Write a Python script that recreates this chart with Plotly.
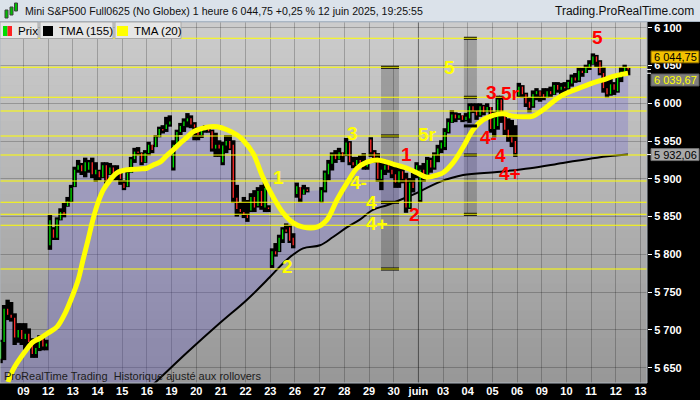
import plotly.graph_objects as go

# ---------------- data ----------------
days = ["08", "09", "12", "13", "14", "15", "16", "19", "20", "21", "22", "23", "26",
        "27", "28", "29", "30", "juin", "03", "04", "05", "06", "09", "10", "11", "12", "13"]
bars_per_day = [7, 7, 7, 7, 7, 7, 7, 7, 7, 7, 7, 7, 4,
                7, 7, 7, 7, 7, 7, 7, 7, 7, 7, 7, 7, 4, 0]

opens = [
    5662, 5684, 5728, 5720, 5716, 5690, 5700,
    5688, 5695, 5684, 5668, 5676, 5688, 5678,
    5812, 5833, 5822, 5846, 5856, 5864, 5870,
    5890, 5912, 5918, 5910, 5912, 5922, 5906,
    5910, 5902, 5918, 5906, 5915, 5906, 5910,
    5894, 5890, 5908, 5926, 5936, 5934, 5922,
    5934, 5945, 5942, 5955, 5966, 5966, 5972,
    5915, 5945, 5962, 5970, 5976, 5980, 5972,
    5962, 5958, 5964, 5968, 5963, 5940, 5945,
    5922, 5944, 5950, 5945, 5875, 5860, 5856,
    5852, 5858, 5876, 5864, 5884, 5862, 5862,
    5786, 5804, 5804, 5820, 5833, 5836, 5822,
    5880, 5889, 5880, 5886,
    5870, 5885, 5906, 5920, 5932, 5926, 5935,
    5932, 5948, 5922, 5918, 5925, 5920, 5916,
    5952, 5935, 5928, 5900, 5912, 5918, 5912,
    5906, 5895, 5910, 5900, 5862, 5895, 5905,
    5872, 5912, 5905, 5925, 5915, 5932, 5940,
    5942, 5962, 5975, 5985, 5980, 5984, 5978,
    5980, 5996, 5990, 5984, 5996, 5988, 5995,
    5966, 5970, 6005, 5984, 5965, 5955, 5950,
    6010, 6022, 6012, 6002, 5996, 6012, 6016,
    6012, 6008, 6016, 6012, 6024, 6018, 6022,
    6020, 6026, 6034, 6030, 6043, 6040, 6048,
    6052, 6062, 6055, 6040, 6020, 6012, 6025,
    6016, 6034, 6042, 6047,
]
highs = [
    5687, 5733, 5740, 5737, 5722, 5709, 5709,
    5709, 5702, 5689, 5684, 5693, 5689, 5687,
    5852, 5836, 5849, 5861, 5868, 5876, 5892,
    5916, 5925, 5921, 5928, 5925, 5928, 5922,
    5912, 5922, 5922, 5921, 5918, 5918, 5912,
    5898, 5912, 5929, 5941, 5942, 5935, 5938,
    5949, 5945, 5958, 5969, 5971, 5982, 5984,
    5951, 5965, 5974, 5980, 5987, 5984, 5975,
    5968, 5967, 5971, 5968, 5965, 5961, 5951,
    5949, 5958, 5958, 5951, 5892, 5869, 5876,
    5872, 5881, 5885, 5889, 5892, 5896, 5865,
    5808, 5815, 5826, 5836, 5841, 5839, 5828,
    5895, 5889, 5892, 5889,
    5889, 5911, 5925, 5935, 5938, 5941, 5935,
    5954, 5950, 5929, 5929, 5931, 5934, 5925,
    5955, 5938, 5934, 5921, 5925, 5922, 5918,
    5918, 5916, 5916, 5908, 5901, 5908, 5922,
    5918, 5921, 5929, 5928, 5935, 5945, 5951,
    5967, 5980, 5991, 5988, 5987, 5984, 5987,
    6000, 6000, 6000, 6000, 5998, 6000, 5995,
    5989, 6010, 6010, 5984, 5980, 5978, 5971,
    6027, 6024, 6014, 6008, 6017, 6020, 6017,
    6020, 6020, 6022, 6028, 6028, 6027, 6028,
    6031, 6038, 6040, 6047, 6047, 6051, 6057,
    6066, 6064, 6057, 6048, 6035, 6033, 6028,
    6037, 6048, 6051, 6047,
]
lows = [
    5656, 5660, 5713, 5711, 5680, 5683, 5680,
    5674, 5677, 5663, 5663, 5672, 5673, 5673,
    5806, 5819, 5819, 5845, 5849, 5863, 5869,
    5889, 5908, 5905, 5902, 5908, 5901, 5896,
    5898, 5901, 5892, 5905, 5898, 5898, 5892,
    5885, 5889, 5908, 5921, 5931, 5918, 5921,
    5931, 5934, 5942, 5955, 5960, 5962, 5969,
    5911, 5944, 5958, 5962, 5968, 5967, 5951,
    5951, 5954, 5961, 5961, 5936, 5929, 5929,
    5918, 5934, 5938, 5868, 5850, 5852, 5848,
    5843, 5856, 5856, 5862, 5859, 5856, 5856,
    5782, 5797, 5803, 5815, 5828, 5815, 5808,
    5875, 5869, 5879, 5882,
    5868, 5882, 5898, 5911, 5921, 5925, 5922,
    5930, 5918, 5914, 5916, 5918, 5912, 5912,
    5929, 5921, 5896, 5885, 5905, 5908, 5901,
    5888, 5888, 5894, 5855, 5860, 5882, 5901,
    5869, 5896, 5902, 5908, 5912, 5922, 5934,
    5938, 5960, 5974, 5975, 5978, 5975, 5976,
    5974, 5987, 5978, 5982, 5984, 5988, 5961,
    5955, 5965, 5974, 5958, 5949, 5942, 5929,
    6008, 6007, 5995, 5988, 5994, 6004, 6002,
    6004, 6007, 6008, 6011, 6014, 6011, 6015,
    6018, 6022, 6027, 6028, 6035, 6040, 6044,
    6051, 6048, 6037, 6014, 6007, 6010, 6011,
    6014, 6028, 6041, 6037,
]
closes = [
    5684, 5728, 5720, 5716, 5690, 5700, 5688,
    5695, 5684, 5668, 5676, 5688, 5678, 5682,
    5845, 5822, 5846, 5856, 5852, 5870, 5888,
    5912, 5918, 5910, 5922, 5922, 5906, 5912,
    5902, 5918, 5898, 5915, 5906, 5910, 5900,
    5888, 5908, 5926, 5936, 5934, 5922, 5934,
    5945, 5938, 5955, 5966, 5964, 5972, 5976,
    5945, 5962, 5970, 5976, 5980, 5972, 5968,
    5958, 5964, 5968, 5963, 5940, 5945, 5940,
    5944, 5950, 5940, 5875, 5860, 5856, 5852,
    5848, 5876, 5862, 5884, 5864, 5888, 5860,
    5804, 5800, 5822, 5833, 5830, 5818, 5812,
    5890, 5874, 5886, 5884,
    5885, 5908, 5920, 5932, 5926, 5935, 5930,
    5948, 5922, 5918, 5925, 5920, 5916, 5920,
    5935, 5928, 5900, 5912, 5918, 5912, 5906,
    5895, 5910, 5900, 5862, 5895, 5888, 5918,
    5912, 5905, 5925, 5915, 5932, 5940, 5948,
    5962, 5975, 5985, 5980, 5984, 5978, 5982,
    5996, 5990, 5984, 5996, 5988, 5995, 5966,
    5980, 6005, 5985, 5965, 5955, 5948, 5934,
    6022, 6012, 6000, 5994, 6012, 6016, 6010,
    6008, 6016, 6012, 6024, 6018, 6022, 6020,
    6028, 6034, 6030, 6043, 6040, 6048, 6052,
    6062, 6055, 6040, 6020, 6012, 6025, 6018,
    6034, 6042, 6048, 6044.75,
]

# triangular moving averages, sampled along the drawn curves (x in hourly-bar units)
tma20_x = [2.6, 4.0, 7.4, 9.7, 11.7, 14.0, 16.5, 18.8, 20.8, 22.5, 23.9, 25.3, 26.7,
           28.1, 29.6, 31.5, 33.5, 36.4, 40.0, 42.0, 43.7, 45.7, 47.7, 49.4, 51.4,
           53.4, 55.1, 57.9, 59.9, 61.9, 64.7, 67.6, 69.3, 72.1, 74.9, 77.8, 80.6,
           83.4, 86.3, 90.2, 93.1, 95.9, 98.8, 101.6, 104.4, 107.3, 110.1, 112.9,
           115.8, 118.6, 121.4, 124.3, 126.0, 128.8, 131.7, 134.5, 137.3, 140.2,
           143.0, 145.8, 148.7, 151.5, 154.3, 157.2, 160.0, 162.9, 165.7, 168.5,
           171.4, 174.2, 177.0, 178.45]
tma20_y = [5631, 5647, 5671, 5684, 5689, 5696, 5704, 5722, 5744, 5766, 5793, 5819, 5846,
           5868, 5885, 5898, 5908, 5912, 5913, 5914, 5918, 5922, 5931, 5938, 5947,
           5955, 5962, 5967, 5969, 5969, 5965, 5958, 5951, 5934, 5902, 5876, 5855,
           5842, 5836, 5836, 5846, 5872, 5895, 5914, 5922, 5925, 5922, 5918,
           5914, 5908, 5902, 5905, 5908, 5921, 5942, 5965, 5978, 5984,
           5986, 5983, 5982, 5983, 5991, 6002, 6011, 6017, 6022, 6027,
           6031, 6035.5, 6038.5, 6039.67]
tma155_x = [0.34, 20.2, 40.0, 45.2, 53.4, 62.7, 70.4, 76.9, 81.7, 86.3, 91.1, 94.8, 98.8,
            102.4, 106.1, 110.1, 113.8, 117.5, 121.4, 125.1, 131.7, 141.3, 150.7,
            160.0, 169.7, 178.45]
tma155_y = [5440, 5530, 5612, 5634, 5670, 5709, 5740, 5770, 5793, 5808, 5812, 5823, 5836,
            5846, 5859, 5865, 5872, 5879, 5888, 5896, 5905, 5909, 5914,
            5921, 5928, 5932.06]

# horizontal levels drawn on the chart
levels = [6086.0, 6047.6, 6007.9, 5989.8, 5956.7, 5931.5, 5897.1, 5868.9, 5853.0, 5838.5, 5780.6]

# ---------------- geometry helpers ----------------
W, H = 700, 400
PL, PR, PT, PB = 0, 647, 22, 383
Y_RANGE = [5629.75, 6107.54]
X_RANGE = [0.34, 183.84]
FONT = "Liberation Sans, Arial, sans-serif"


def pxp(x):
    return (x - PL) / (PR - PL)


def pyp(y):
    return (PB - y) / (PB - PT)


def fr(v):
    return f"{v:,.2f}".replace(",", " ").replace(".", ",")


xs = []
for d, n in enumerate(bars_per_day):
    xs += [d * 7 + j + 0.5 for j in range(n)]

fig = go.Figure()

# purple cloud between price and TMA(155)
fig.add_trace(go.Scatter(x=tma155_x, y=tma155_y, mode="lines",
                         line=dict(width=0, shape="spline"), hoverinfo="skip", showlegend=False))
fig.add_trace(go.Scatter(x=xs, y=closes, mode="lines", line=dict(width=0),
                         fill="tonexty", fillcolor="rgba(110,100,210,0.30)",
                         hoverinfo="skip", showlegend=False))
# TMA 155
fig.add_trace(go.Scatter(x=tma155_x, y=tma155_y, mode="lines",
                         line=dict(color="#000000", width=2, shape="spline"), showlegend=False))

# candles: black high-low blobs and thin coloured bodies
wx, wy, ux, uy, dx, dy = [], [], [], [], [], []
for x, o, h, l, c in zip(xs, opens, highs, lows, closes):
    wx += [x, x, None]
    wy += [l, h, None]
    lo, hi = min(o, c), max(o, c)
    if hi - lo < 1.5:
        hi = lo + 1.5
    if c >= o:
        ux += [x, x, None]
        uy += [lo, hi, None]
    else:
        dx += [x, x, None]
        dy += [lo, hi, None]
fig.add_trace(go.Scatter(x=wx, y=wy, mode="lines", line=dict(color="#000000", width=4.4),
                         showlegend=False, hoverinfo="skip"))
fig.add_trace(go.Scatter(x=ux, y=uy, mode="lines", line=dict(color="#00e000", width=1.3),
                         showlegend=False, hoverinfo="skip"))
fig.add_trace(go.Scatter(x=dx, y=dy, mode="lines", line=dict(color="#ff2a2a", width=1.3),
                         showlegend=False, hoverinfo="skip"))
# TMA 20
fig.add_trace(go.Scatter(x=tma20_x, y=tma20_y, mode="lines",
                         line=dict(color="#ffff00", width=5, shape="spline", smoothing=1.0),
                         showlegend=False))

shapes = []
# plot background gradient
N = 40
for i in range(N):
    t = i / (N - 1)
    g = round(204 - (204 - 152) * t)
    y0 = PT + i * (PB - PT) / N
    y1 = PT + (i + 1) * (PB - PT) / N + 0.6
    shapes.append(dict(type="rect", xref="paper", yref="paper", x0=0, x1=1,
                       y0=pyp(min(y1, PB)), y1=pyp(y0), fillcolor=f"rgb({g},{g},{g})",
                       line=dict(width=0), layer="below"))
# darker month separator
shapes.append(dict(type="line", xref="x", yref="paper", x0=17 * 7, x1=17 * 7, y0=0, y1=1,
                   line=dict(color="rgba(0,0,0,0.35)", width=1), layer="below"))
# grey projection boxes
for bx0, bx1, by0, by1 in [(108.4, 113.5, 5780.6, 6047.6), (131.9, 135.6, 5853.0, 6086.0)]:
    shapes.append(dict(type="rect", xref="x", yref="y", x0=bx0, x1=bx1, y0=by0, y1=by1,
                       fillcolor="rgba(0,0,0,0.2)", line=dict(width=0), layer="below"))
for bx0, bx1, marks in [(108.4, 113.5, [6047.6, 5956.7, 5868.9, 5780.6]),
                        (131.9, 135.6, [6086.0, 6007.9, 5970.0, 5931.5, 5853.0])]:
    for m in marks:
        shapes.append(dict(type="line", xref="x", yref="y", x0=bx0, x1=bx1, y0=m, y1=m,
                           line=dict(color="#000000", width=3), layer="above"))
# yellow horizontal levels
for lv in levels:
    shapes.append(dict(type="line", xref="paper", yref="y", x0=0, x1=1, y0=lv, y1=lv,
                       line=dict(color="#ffff00", width=1.1), layer="above"))
# plot border
shapes.append(dict(type="rect", xref="paper", yref="paper", x0=0, x1=1, y0=0, y1=1,
                   line=dict(color="#aeb6bf", width=1), layer="above"))
# title bar
shapes.append(dict(type="rect", xref="paper", yref="paper", x0=pxp(0), x1=pxp(700),
                   y0=pyp(21.5), y1=pyp(0), fillcolor="#dbe2ea", line=dict(width=0), layer="above"))
shapes.append(dict(type="line", xref="paper", yref="paper", x0=pxp(0), x1=pxp(700),
                   y0=pyp(21.5), y1=pyp(21.5), line=dict(color="#a9b6c4", width=1), layer="above"))
# title icon
for ix0, iy0, iy1, col in [(5, 10, 18, "#00c000"), (10, 7, 15, "#00c000"), (14.5, 3, 11, "#00c000")]:
    shapes.append(dict(type="rect", xref="paper", yref="paper", x0=pxp(ix0), x1=pxp(ix0 + 3),
                       y0=pyp(iy1), y1=pyp(iy0), fillcolor=col, line=dict(color="#404040", width=1),
                       layer="above"))
# legend boxes
for lx0, lx1 in [(0, 38), (40, 113), (115, 181)]:
    shapes.append(dict(type="rect", xref="paper", yref="paper", x0=pxp(lx0), x1=pxp(lx1),
                       y0=pyp(38.5), y1=pyp(22), fillcolor="#e6e6e6",
                       line=dict(color="#a8a8a8", width=1), layer="above"))
for sx0, sx1, col in [(3, 7.5, "#00dd00"), (7.5, 12, "#ff2020"), (43, 53, "#000000"), (117, 128, "#ffff00")]:
    shapes.append(dict(type="rect", xref="paper", yref="paper", x0=pxp(sx0), x1=pxp(sx1),
                       y0=pyp(36), y1=pyp(26), fillcolor=col, line=dict(width=0), layer="above"))

# right-side value boxes
last_close = closes[-1]
last_t20 = tma20_y[-1]
last_t155 = tma155_y[-1]
value_boxes = [
    (last_close, 6.5, 18.5, "#f2c100", "#7a5a00", "#000000"),
    (last_t20, -12.7, -0.7, "#7f7f7f", "#5a5a5a", "#ffff00"),
    (last_t155, -6, 6, "#a9a9a9", "#707070", "#000000"),
]
annotations = []
for val, o0, o1, bg, bd, tc in value_boxes:
    shapes.append(dict(type="rect", xref="paper", yref="y", ysizemode="pixel", yanchor=val,
                       x0=pxp(651), x1=pxp(699), y0=o0, y1=o1, fillcolor=bg,
                       line=dict(color=bd, width=1), layer="above"))
    shapes.append(dict(type="line", xref="paper", yref="y", x0=pxp(647), x1=pxp(651),
                       y0=val, y1=val, line=dict(color="#ffffff", width=1), layer="above"))
    annotations.append(dict(xref="paper", yref="y", x=pxp(675), y=val, yshift=(o0 + o1) / 2,
                            text=fr(val), showarrow=False, xanchor="center", yanchor="middle",
                            font=dict(family=FONT, size=11, color=tc)))

# title texts
annotations.append(dict(xref="paper", yref="paper", x=pxp(23), y=pyp(11), xanchor="left",
                        yanchor="middle", showarrow=False,
                        text="Mini S&amp;P500 Full0625 (No Globex) 1 heure " + fr(last_close)
                             + " +0,25 % 12 juin 2025, 19:25:55",
                        font=dict(family=FONT, size=10.6, color="#101010")))
annotations.append(dict(xref="paper", yref="paper", x=pxp(696), y=pyp(11), xanchor="right",
                        yanchor="middle", showarrow=False, text="Trading.ProRealTime.com",
                        font=dict(family=FONT, size=12, color="#101010")))
# legend texts
for tx, txt in [(16, "Prix"), (57, "TMA (155)"), (132, "TMA (20)")]:
    annotations.append(dict(xref="paper", yref="paper", x=pxp(tx), y=pyp(30.5), xanchor="left",
                            yanchor="middle", showarrow=False, text=txt,
                            font=dict(family=FONT, size=11.6, color="#000000")))
# footer text
annotations.append(dict(xref="paper", yref="paper", x=pxp(2), y=pyp(376), xanchor="left",
                        yanchor="middle", showarrow=False,
                        text="ProRealTime Trading  Historique ajusté aux rollovers",
                        font=dict(family=FONT, size=11, color="#1c1c1c")))

# wave count labels
YEL, RED = "#ffff00", "#ff0000"
wave_labels = [
    ("1", 79.2, 5902.4, YEL), ("2", 82.0, 5783.3, YEL), ("3", 100.4, 5960.6, YEL),
    ("4-", 101.9, 5894.5, YEL), ("4", 105.8, 5869.3, YEL), ("4+", 107.3, 5840.2, YEL),
    ("5", 127.7, 6046.7, YEL), ("5r", 121.7, 5958.0, YEL),
    ("1", 115.5, 5932.8, RED), ("2", 118.0, 5853.4, RED), ("3", 139.6, 6014.9, RED),
    ("5r", 145.0, 6012.3, RED), ("4-", 139.0, 5955.3, RED), ("4", 142.4, 5930.2, RED),
    ("4+", 145.0, 5906.4, RED), ("5", 169.7, 6086.4, RED),
]
for txt, ax, ay, col in wave_labels:
    annotations.append(dict(xref="x", yref="y", x=ax, y=ay, text=txt, showarrow=False,
                            xanchor="center", yanchor="middle",
                            font=dict(family=FONT, size=19, color=col, weight="bold")))

fig.update_layout(
    width=W, height=H, autosize=False,
    margin=dict(l=PL, r=W - PR, t=PT, b=H - PB, pad=0),
    paper_bgcolor="#000000", plot_bgcolor="#b4b4b4",
    separators=", ",
    showlegend=False,
    shapes=shapes, annotations=annotations,
    xaxis=dict(range=X_RANGE, tickmode="array", automargin=False,
               tickvals=[d * 7 for d in range(1, len(days))], ticktext=days[1:],
               showgrid=True, gridcolor="rgba(0,0,0,0.22)", gridwidth=1,
               zeroline=False, showline=False, ticks="", ticklen=0,
               tickfont=dict(family=FONT, size=11, color="#ffffff", weight="bold"),
               fixedrange=True),
    yaxis=dict(range=Y_RANGE, side="right", tick0=5650, dtick=50, tickformat=",d",
               automargin=False,
               showgrid=True, gridcolor="rgba(0,0,0,0.22)", gridwidth=1,
               zeroline=False, showline=False, ticks="outside", ticklen=4,
               tickcolor="#ffffff", tickwidth=1,
               tickfont=dict(family=FONT, size=11, color="#ffffff", weight="bold"),
               fixedrange=True),
)

fig.write_html("out.html", config={"displayModeBar": False},
               post_script="document.body.style.margin='0px';document.body.style.overflow='hidden';")
